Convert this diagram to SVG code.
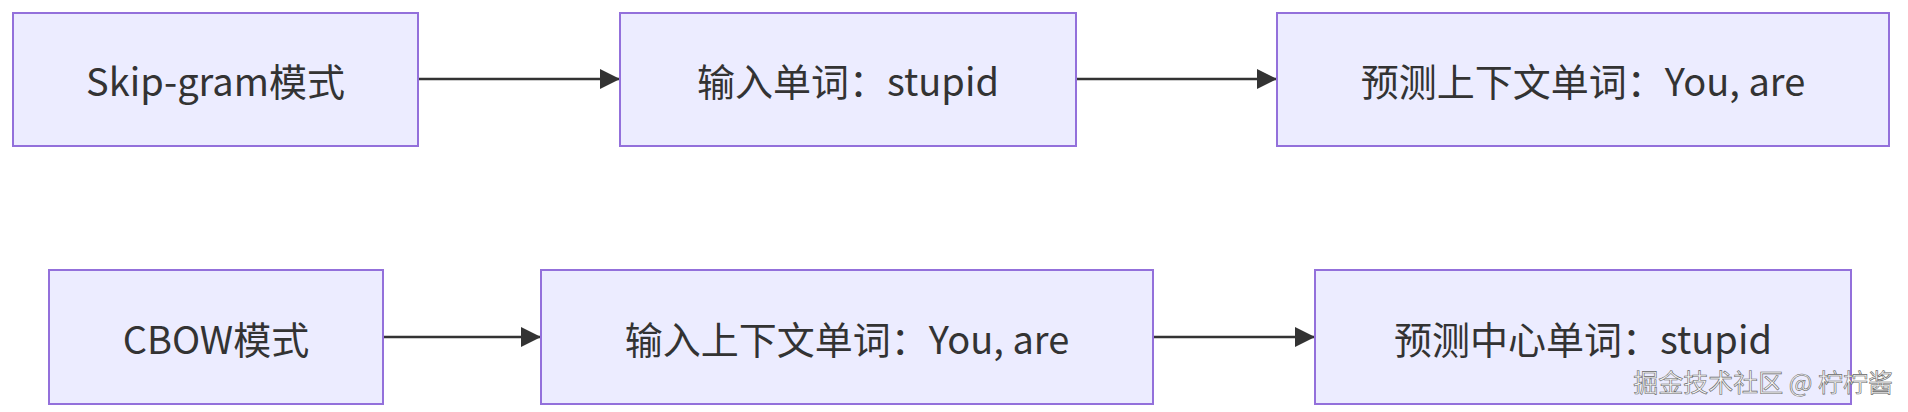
<svg xmlns="http://www.w3.org/2000/svg" width="1908" height="412" viewBox="0 0 1908 412">
<defs>
<style>
.node rect{fill:#ECECFF;stroke:#9370DB;stroke-width:2}
.node text{font-family:"Noto Sans CJK SC","Noto Sans",sans-serif;font-size:38px;fill:#333;text-anchor:middle;dominant-baseline:central}
.edge{stroke:#333;stroke-width:2.5;fill:none}
.wm{font-family:"Noto Sans CJK SC",sans-serif;font-size:25px;fill:#f7f7f7;stroke:#666;stroke-width:0.6}
</style>
<marker id="arrow" viewBox="0 0 20 20" refX="19" refY="10" markerUnits="userSpaceOnUse" markerWidth="20" markerHeight="20" orient="auto">
<path d="M0,0 L20,10 L0,20 z" fill="#333"/>
</marker>
</defs>
<rect width="1908" height="412" fill="#fff"/>
<g id="connectors">
<line class="edge" x1="419" y1="79" x2="619" y2="79" marker-end="url(#arrow)"/>
<line class="edge" x1="1077" y1="79" x2="1276" y2="79" marker-end="url(#arrow)"/>
<line class="edge" x1="384" y1="337" x2="540" y2="337" marker-end="url(#arrow)"/>
<line class="edge" x1="1154" y1="337" x2="1314" y2="337" marker-end="url(#arrow)"/>
</g>
<g id="skipgram" class="node"><rect x="13" y="13" width="405" height="133"/><text x="215.5" y="79">Skip-gram模式</text></g>
<g id="input1" class="node"><rect x="620" y="13" width="456" height="133"/><text x="848" y="79">输入单词：stupid</text></g>
<g id="predict1" class="node"><rect x="1277" y="13" width="612" height="133"/><text x="1583" y="79">预测上下文单词：You, are</text></g>
<g id="cbow" class="node"><rect x="49" y="270" width="334" height="134"/><text x="216" y="337">CBOW模式</text></g>
<g id="input2" class="node"><rect x="541" y="270" width="612" height="134"/><text x="847" y="337">输入上下文单词：You, are</text></g>
<g id="predict2" class="node"><rect x="1315" y="270" width="536" height="134"/><text x="1583" y="337">预测中心单词：stupid</text></g>
<text class="wm" x="1893" y="392" text-anchor="end">掘金技术社区 @ 柠柠酱</text>
</svg>
